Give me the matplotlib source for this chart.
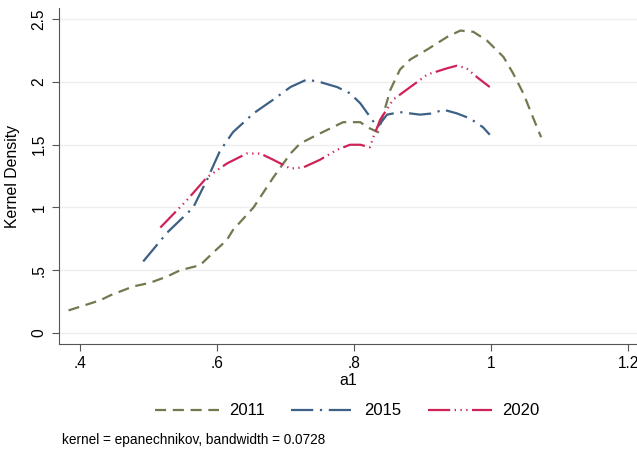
import numpy as np
import matplotlib
matplotlib.use("Agg")
import matplotlib.pyplot as plt

plt.rcParams['font.family'] = ['Liberation Sans', 'DejaVu Sans']

# kernel density curves read per year
x_2011 = [0.383, 0.429, 0.444, 0.477, 0.502, 0.527, 0.546, 0.575, 0.594, 0.614, 0.623,
          0.653, 0.682, 0.707, 0.721, 0.750, 0.784, 0.809, 0.819, 0.835, 0.853, 0.867,
          0.882, 0.907, 0.936, 0.955, 0.974, 0.994, 1.018, 1.032, 1.047, 1.061, 1.073]
y_2011 = [0.18, 0.26, 0.30, 0.37, 0.40, 0.45, 0.50, 0.54, 0.64, 0.74, 0.82,
          1.00, 1.24, 1.43, 1.51, 1.59, 1.68, 1.68, 1.64, 1.60, 1.94, 2.10,
          2.18, 2.26, 2.36, 2.41, 2.40, 2.33, 2.20, 2.07, 1.91, 1.72, 1.56]

x_2015 = [0.492, 0.527, 0.565, 0.585, 0.604, 0.623, 0.653, 0.682, 0.707, 0.731, 0.750,
          0.775, 0.794, 0.809, 0.834, 0.848, 0.867, 0.896, 0.915, 0.930, 0.950, 0.969,
          0.988, 0.998]
y_2015 = [0.57, 0.80, 1.00, 1.22, 1.45, 1.60, 1.75, 1.86, 1.96, 2.02, 2.00,
          1.96, 1.91, 1.83, 1.64, 1.74, 1.76, 1.74, 1.75, 1.78, 1.75, 1.71,
          1.64, 1.58]

x_2020 = [0.517, 0.556, 0.585, 0.614, 0.643, 0.663, 0.682, 0.707, 0.726, 0.750, 0.775,
          0.794, 0.809, 0.823, 0.828, 0.838, 0.857, 0.882, 0.907, 0.936, 0.950, 0.964,
          0.979, 0.998]
y_2020 = [0.84, 1.06, 1.24, 1.35, 1.43, 1.43, 1.38, 1.31, 1.32, 1.38, 1.46,
          1.50, 1.50, 1.48, 1.56, 1.70, 1.86, 1.96, 2.06, 2.11, 2.13, 2.11,
          2.04, 1.96]

xticks = [0.4, 0.6, 0.8, 1.0, 1.2]
xlabels = ['.4', '.6', '.8', '1', '1.2']
yticks = [0, 0.5, 1, 1.5, 2, 2.5]
ylabels = ['0', '.5', '1', '1.5', '2', '2.5']

fig = plt.figure(figsize=(6.37, 4.54), dpi=100)
ax = fig.add_axes([0.0926, 0.2423, 0.9074, 0.7401])

ax.plot(x_2011, y_2011, color='#6f7a4e', lw=1.6, dashes=(5, 3), label='2011')
ax.plot(x_2015, y_2015, color='#3d6085', lw=1.6, dashes=(10, 3, 1, 3), label='2015')
ax.plot(x_2020, y_2020, color='#cf2358', lw=1.6,
        dashes=(10, 2, 0.6, 2, 0.6, 2, 0.6, 2), label='2020')

ax.set_xlim(0.369, 1.213)
ax.set_ylim(-0.088, 2.59)
ax.set_xticks(xticks)
ax.set_xticklabels(xlabels)
ax.set_yticks(yticks)
ax.set_yticklabels(ylabels, rotation=90, va='center')
ax.tick_params(labelsize=11.2, length=5, color='#555555', direction='out', pad=4)
ax.grid(axis='y', color='#eeeeee', lw=1)
ax.set_axisbelow(True)
for s in ['top', 'right']:
    ax.spines[s].set_visible(False)
for s in ['left', 'bottom']:
    ax.spines[s].set_color('#555555')
ax.set_xlabel('a1', fontsize=11.4, labelpad=1)
ax.set_ylabel('Kernel Density', fontsize=11.4, labelpad=8)

fig.legend(loc='center', bbox_to_anchor=(0.545, 0.095), ncol=3, frameon=False,
           fontsize=12, handlelength=3.8, columnspacing=1.6, handletextpad=0.6)
fig.text(0.097, 0.022, 'kernel = epanechnikov, bandwidth = 0.0728', fontsize=9.8)

fig.savefig('out.png', dpi=100)
